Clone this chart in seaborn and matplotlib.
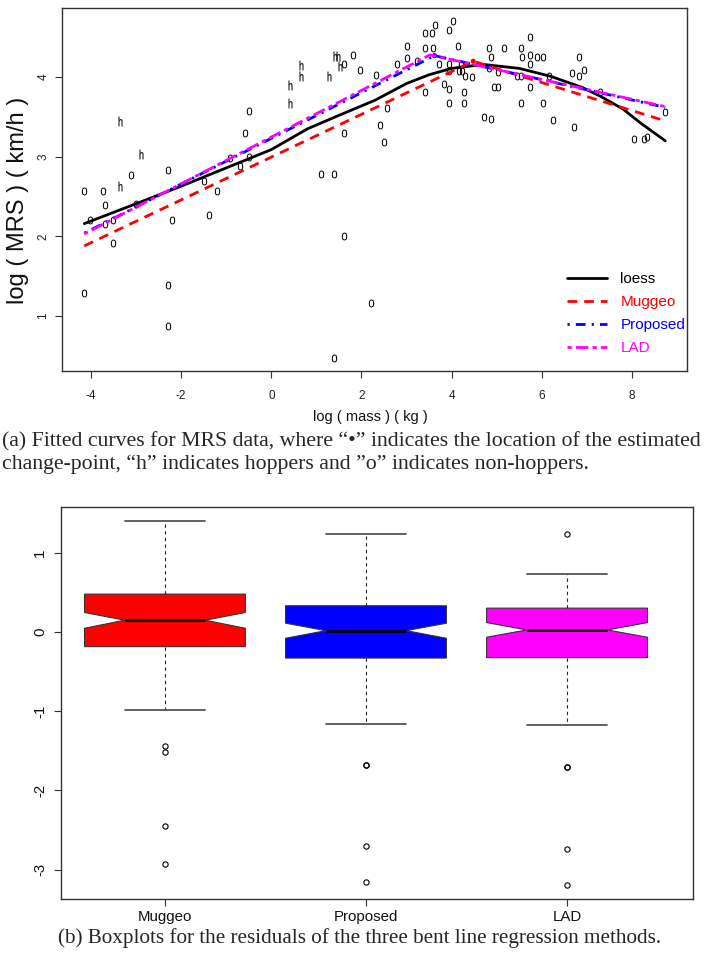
import numpy as np
import matplotlib
matplotlib.use("Agg")
import matplotlib.pyplot as plt
import seaborn as sns
from matplotlib.font_manager import FontProperties
from matplotlib.lines import Line2D
from matplotlib.path import Path
from matplotlib.textpath import TextPath
from matplotlib.transforms import Affine2D

# ---- (a) MRS data ----
hop_x = [-3.36, -2.89, -3.36, 0.42, 0.42, 0.66, 0.66, 1.27, 1.42, 1.48, 1.53]
hop_y = [3.45, 3.03, 2.63, 3.90, 3.68, 4.15, 4.02, 4.02, 4.27, 4.27, 4.14]

non_x = [-4.15, -3.73, -3.11, -2.30, -3.69, -3.00, -4.02, -3.70, -3.52, -2.21,
         -3.52, -1.50, -1.21, -1.38, -0.91, -0.69, -0.50, -4.15, -2.30, -2.30,
         -0.50, -0.59, 1.11, 1.40, 1.62, 1.82, 1.96, 2.33, 2.79, 3.01,
         3.01, 2.57, 2.42, 2.50, 1.62, 1.62, 2.21, 1.40, 3.42, 3.56,
         3.63, 3.94, 4.03, 3.42, 3.58, 4.15, 3.24, 3.72, 3.94, 4.20,
         3.94, 4.16, 4.22, 3.83, 3.94, 4.30, 4.46, 4.28, 3.42, 3.94,
         4.28, 4.82, 5.16, 5.55, 5.74, 4.88, 5.57, 5.74, 5.90, 6.02,
         5.74, 4.83, 5.04, 5.46, 5.53, 6.15, 6.66, 6.82, 6.82, 6.94,
         4.94, 5.04, 5.74, 5.55, 6.03, 4.72, 4.87, 6.25, 6.72, 7.29,
         8.74, 8.05, 8.27, 8.33]
non_y = [2.57, 2.57, 2.77, 2.83, 2.40, 2.41, 2.20, 2.15, 2.21, 2.21,
         1.92, 2.70, 2.57, 2.27, 2.99, 2.89, 3.00, 1.29, 1.39, 0.87,
         3.58, 3.30, 2.78, 2.78, 4.16, 4.28, 4.09, 4.03, 4.17, 4.39,
         4.24, 3.61, 3.40, 3.18, 3.30, 2.00, 1.16, 0.47, 4.56, 4.56,
         4.66, 4.59, 4.70, 4.37, 4.37, 4.39, 4.20, 4.17, 4.17, 4.17,
         4.08, 4.08, 4.08, 3.91, 3.85, 4.01, 4.00, 3.81, 3.81, 3.68,
         3.68, 4.37, 4.37, 4.37, 4.50, 4.25, 4.25, 4.28, 4.25, 4.25,
         4.17, 4.11, 4.07, 4.01, 4.01, 4.01, 4.05, 4.01, 4.25, 4.09,
         3.87, 3.87, 3.87, 3.68, 3.68, 3.50, 3.47, 3.46, 3.37, 3.81,
         3.56, 3.22, 3.22, 3.25]

loess_x = [-4.15, -3.0, -2.0, -1.0, 0.0, 0.8, 1.5, 2.3, 3.0, 3.5,
           4.0, 4.7, 5.5, 6.2, 6.9, 7.3, 7.8, 8.2, 8.74]
loess_y = [2.16, 2.41, 2.63, 2.86, 3.09, 3.35, 3.52, 3.71, 3.92, 4.03,
           4.11, 4.16, 4.11, 4.01, 3.87, 3.76, 3.60, 3.42, 3.20]
muggeo_x = [-4.15, 4.48, 8.74]
muggeo_y = [1.88, 4.20, 3.45]
proposed_x = [-4.15, 3.62, 8.74]
proposed_y = [2.04, 4.27, 3.62]
lad_x = [-4.15, 3.52, 8.74]
lad_y = [2.03, 4.28, 3.63]
cp_x = [4.48, 3.62]
cp_y = [4.20, 4.27]
cp_colors = ["#ff0000", "#0000ff"]

# ---- (b) residual boxplot summaries ----
methods = ["Muggeo", "Proposed", "LAD"]
box_colors = ["#ff0000", "#0000ff", "#ff00ff"]
res_med = [0.148, 0.016, 0.025]
res_q1 = [-0.186, -0.33, -0.325]
res_q3 = [0.477, 0.33, 0.30]
res_lo = [-0.98, -1.16, -1.17]
res_hi = [1.40, 1.23, 0.73]
res_cilo = [0.046, -0.08, -0.067]
res_cihi = [0.245, 0.11, 0.118]
res_fliers = [[-1.44, -1.51, -2.45, -2.93],
              [-1.68, -1.68, -2.70, -3.16],
              [1.23, -1.70, -1.70, -2.74, -3.19]]

sns.set_theme(style="ticks")
plt.rcParams["font.family"] = ["Liberation Sans", "DejaVu Sans"]
plt.rcParams["axes.unicode_minus"] = False
SERIF = ["Liberation Serif", "DejaVu Serif"]


def glyph(ch, squeeze):
    # letter used as a plot symbol, squeezed sideways like the original
    p = TextPath((0, 0), ch, size=10, prop=FontProperties(family="Liberation Sans"))
    v = p.vertices.copy()
    codes = p.codes
    start = v[0].copy()
    for i, c in enumerate(codes):
        if c == Path.MOVETO:
            start = v[i].copy()
        elif c == Path.CLOSEPOLY:
            v[i] = start
    cx = (v[:, 0].min() + v[:, 0].max()) / 2
    cy = (v[:, 1].min() + v[:, 1].max()) / 2
    return Path(v, codes).transformed(Affine2D().translate(-cx, -cy).scale(squeeze, 1))


fig = plt.figure(figsize=(7.04, 9.6), dpi=100)

# ---------------- top panel ----------------
ax = fig.add_axes([62 / 704, 1 - 370.7 / 960, 625 / 704, 362.4 / 960])
ax.set_facecolor("white")

sns.scatterplot(x=non_x, y=non_y, marker=glyph("o", 0.8), s=32, color="black",
                linewidth=0, ax=ax)
sns.scatterplot(x=hop_x, y=hop_y, marker=glyph("h", 0.68), s=48, color="black",
                linewidth=0.1, edgecolor="black", ax=ax)

lw = 2.0
styles = [
    ("loess", loess_x, loess_y, "black", "-"),
    ("Muggeo", muggeo_x, muggeo_y, "#ff0000", (0, (3.5, 2.5))),
    ("Proposed", proposed_x, proposed_y, "#0000ff", (0, (0.8, 2.2, 3.5, 2.2))),
    ("LAD", lad_x, lad_y, "#ff00ff", (0, (1.5, 1.5, 4.5, 1.5))),
]
handles = []
for name, xs, ys, col, ls in styles:
    sns.lineplot(x=xs, y=ys, color=col, lw=lw, linestyle=ls, sort=False,
                 estimator=None, ax=ax)
    handles.append(Line2D([], [], color=col, lw=lw, linestyle=ls, label=name))

sns.scatterplot(x=cp_x, y=cp_y, hue=cp_colors, palette={c: c for c in cp_colors},
                s=14, linewidth=0, legend=False, ax=ax)

ax.set_xlim(-4.644, 9.222)
ax.set_ylim(0.312, 4.865)
ax.set_xticks([-4, -2, 0, 2, 4, 6, 8])
ax.set_yticks([1, 2, 3, 4])
ax.tick_params(axis="x", direction="out", length=5, width=0.8, color="#333333",
               labelsize=8.5, pad=9, labelcolor="#222222")
ax.tick_params(axis="y", direction="out", length=5, width=0.8, color="#333333",
               labelsize=8.5, pad=4, labelcolor="#222222")
plt.setp(ax.get_yticklabels(), rotation=90, va="center")
for sp in ax.spines.values():
    sp.set_visible(True)
    sp.set_color("#333333")
    sp.set_linewidth(1.0)

ax.set_xlabel("log ( mass ) ( kg )", fontsize=10.5, color="#111111")
ax.set_ylabel("log ( MRS ) ( km/h )", fontsize=17, color="#111111")
ax.xaxis.set_label_coords(0.494, -0.108)
ax.yaxis.set_label_coords(-0.052, 0.471)

leg = ax.legend(handles=handles, loc="upper left", frameon=False,
                bbox_to_anchor=(567 / 704, 1 - 272 / 960),
                bbox_transform=fig.transFigure, borderpad=0, borderaxespad=0,
                handlelength=2.6, handletextpad=0.9, labelspacing=0.6,
                prop=FontProperties(family="Liberation Sans", size=11),
                labelcolor=["black", "#ff0000", "#0000ff", "#ff00ff"])

fig.text(0.003, 1 - 442 / 960,
         "(a) Fitted curves for MRS data, where \u201c\u2022\u201d indicates the location of the estimated",
         fontsize=15.7, family=SERIF, ha="left", va="center")
fig.text(0.003, 1 - 464 / 960,
         "change-point, \u201ch\u201d indicates hoppers and \u201do\u201d indicates non-hoppers.",
         fontsize=15.7, family=SERIF, ha="left", va="center")

# ---------------- bottom panel ----------------
ax2 = fig.add_axes([61 / 704, 1 - 899 / 960, 631.5 / 704, 392.3 / 960])
stats = []
for i, m in enumerate(methods):
    stats.append(dict(label=m, med=res_med[i], q1=res_q1[i], q3=res_q3[i],
                      whislo=res_lo[i], whishi=res_hi[i], cilo=res_cilo[i],
                      cihi=res_cihi[i], fliers=res_fliers[i]))
bp = ax2.bxp(stats, positions=[0, 1, 2], widths=0.8, capwidths=0.4,
             shownotches=True, patch_artist=True,
             boxprops=dict(edgecolor="#333333", linewidth=0.8),
             whiskerprops=dict(color="#222222", linewidth=0.8, linestyle=(0, (3, 3))),
             capprops=dict(color="#555555", linewidth=1.3),
             medianprops=dict(color="black", linewidth=2.0),
             flierprops=dict(marker="o", markerfacecolor="none",
                             markeredgecolor="black", markersize=3.8,
                             markeredgewidth=0.8))
for patch, col in zip(bp["boxes"], box_colors):
    patch.set_facecolor(col)

ax2.set_xlim(-0.517, 2.624)
ax2.set_ylim(-3.37, 1.58)
ax2.set_yticks([-3, -2, -1, 0, 1])
ax2.set_xticks([0, 1, 2])
ax2.set_xticklabels(methods)
ax2.tick_params(axis="both", direction="out", length=5, width=0.8, color="#333333",
                labelsize=10.8, labelcolor="#111111")
ax2.tick_params(axis="x", pad=3)
ax2.tick_params(axis="y", pad=5)
plt.setp(ax2.get_yticklabels(), rotation=90, va="center")
for sp in ax2.spines.values():
    sp.set_visible(True)
    sp.set_color("#333333")
    sp.set_linewidth(1.0)
ax2.set_facecolor("white")

fig.text(58 / 704, 1 - 938 / 960,
         "(b) Boxplots for the residuals of the three bent line regression methods.",
         fontsize=15.2, family=SERIF, ha="left", va="center")

fig.savefig("out.png", dpi=100, facecolor="white")
